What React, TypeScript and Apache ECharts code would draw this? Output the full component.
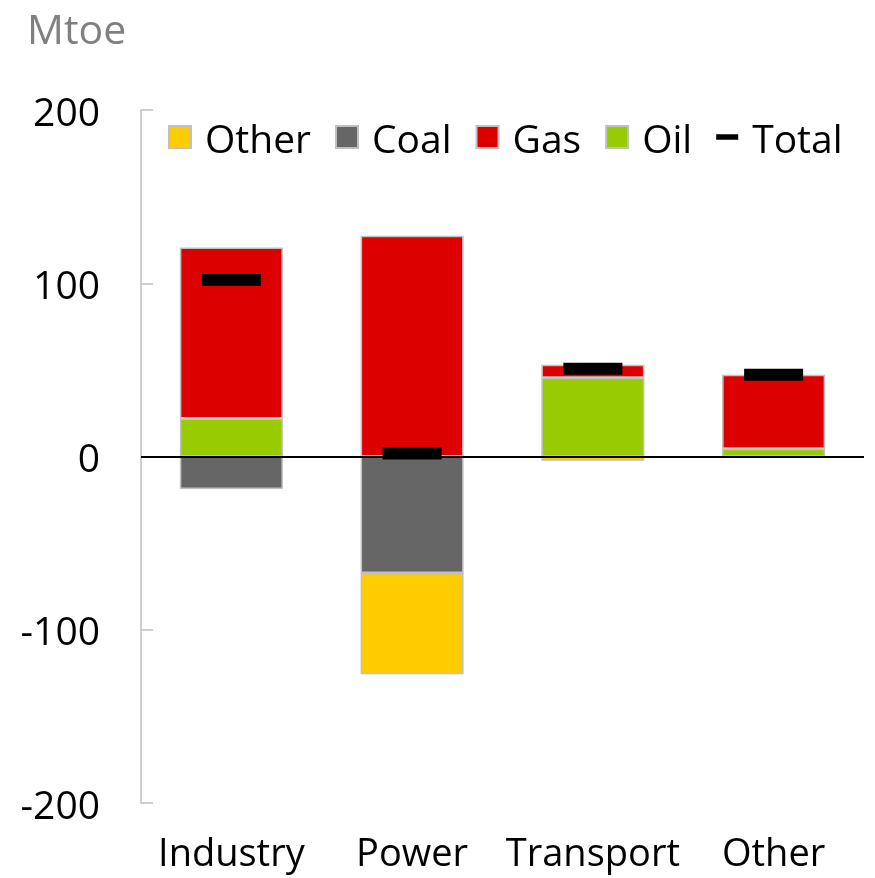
import React, { useEffect, useRef } from "react";
import * as echarts from "echarts";

const categories = ["Industry", "Power", "Transport", "Other"];
const oil = [22, null, 45.5, 4.5];
const gas = [98.7, 127.4, 7.5, 42.7];
const coal = [-18.8, -67.2, null, null];
const otherFuel = [null, -58.5, -2.4, null];
const total = [101.9, 1.7, 50.6, 47.2];
const yTicks = { min: -200, max: 200, interval: 100 };

const FONT = "'Open Sans', 'DejaVu Sans', sans-serif";
const BORDER = "#c0c0c0";

export default function App() {
  const ref = useRef<HTMLDivElement>(null);

  useEffect(() => {
    if (!ref.current) return;
    const chart = echarts.init(ref.current, undefined, { renderer: "svg" });

    const barSeries = (name: string, data: (number | null)[], color: string) => ({
      name,
      type: "bar",
      stack: "mix",
      barWidth: "57%",
      data: data.map((v) => (v === null ? "-" : v)),
      itemStyle: { color, borderColor: BORDER, borderWidth: 1.5 },
    });

    chart.setOption({
      animation: false,
      textStyle: { fontFamily: FONT },
      graphic: [
        {
          type: "text",
          left: 27,
          top: 7,
          style: { text: "Mtoe", fill: "#808080", font: `41px ${FONT}` },
        },
      ],
      legend: {
        left: 163,
        top: 112,
        itemWidth: 22,
        itemHeight: 22,
        itemGap: 24,
        textStyle: {
          fontSize: 39,
          color: "#000",
          fontFamily: FONT,
          lineHeight: 40,
          padding: [0, 0, 0, 9],
        },
        data: [
          { name: "Other", icon: "rect" },
          { name: "Coal", icon: "rect" },
          { name: "Gas", icon: "rect" },
          { name: "Oil", icon: "rect" },
          { name: "Total", icon: "path://M0,0H24V6H0Z" },
        ],
      },
      grid: { left: 141, right: 11, top: 110, bottom: 75, containLabel: false },
      xAxis: {
        type: "category",
        data: categories,
        axisLine: { show: false, onZero: false },
        axisTick: { show: false },
        axisLabel: { interval: 0, fontSize: 38, lineHeight: 38, color: "#000", margin: 29, fontFamily: FONT },
      },
      yAxis: {
        type: "value",
        min: yTicks.min,
        max: yTicks.max,
        interval: yTicks.interval,
        splitLine: { show: false },
        axisLine: { show: true, lineStyle: { color: "#bfbfbf", width: 1.5 } },
        axisTick: { show: true, inside: true, length: 12, lineStyle: { color: "#bfbfbf", width: 1.5 } },
        axisLabel: { fontSize: 39, color: "#000", margin: 41, fontFamily: FONT },
      },
      series: [
        {
          ...barSeries("Oil", oil, "#99cc00"),
          markLine: {
            silent: true,
            symbol: "none",
            label: { show: false },
            lineStyle: { color: "#000", width: 2, type: "solid" },
            data: [{ yAxis: 0 }],
            z: 5,
          },
        },
        barSeries("Coal", coal, "#666666"),
        barSeries("Gas", gas, "#dd0000"),
        barSeries("Other", otherFuel, "#ffcc00"),
        {
          name: "Total",
          type: "scatter",
          symbol: "rect",
          symbolSize: [59, 12],
          itemStyle: { color: "#000", opacity: 1 },
          data: total,
          z: 10,
        },
      ],
    });

    return () => chart.dispose();
  }, []);

  return (
    <div style={{ position: "fixed", left: 0, top: 0 }}>
      <div ref={ref} style={{ width: 875, height: 878 }} />
    </div>
  );
}
